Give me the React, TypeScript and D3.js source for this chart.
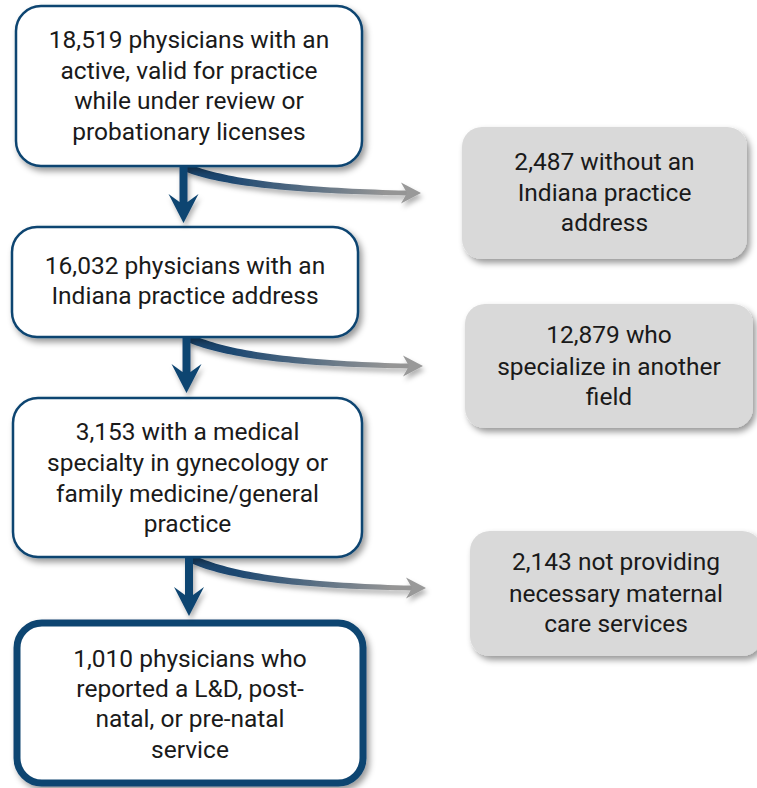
import React from "react";
import * as d3 from "d3";

// ---- Data ----
const stageCounts = ["18,519", "16,032", "3,153", "1,010"];
const stageLines = [
  ["18,519 physicians with an", "active, valid for practice", "while under review or", "probationary licenses"],
  ["16,032 physicians with an", "Indiana practice address"],
  ["3,153 with a medical", "specialty in gynecology or", "family medicine/general", "practice"],
  ["1,010 physicians who", "reported a L&D, post-", "natal, or pre-natal", "service"],
];
const excludedCounts = ["2,487", "12,879", "2,143"];
const excludedLines = [
  ["2,487 without an", "Indiana practice", "address"],
  ["12,879 who", "specialize in another", "field"],
  ["2,143 not providing", "necessary maternal", "care services"],
];

// ---- Layout ----
const W = 757;
const H = 788;
const mainBoxes = [
  { x: 16, y: 6, w: 346, h: 160, sw: 2.5 },
  { x: 12, y: 227, w: 346, h: 110, sw: 2.5 },
  { x: 13, y: 398, w: 349, h: 159, sw: 2.5 },
  { x: 17, y: 623, w: 346, h: 160, sw: 7 },
];
const mainBaselines = [
  [48, 79, 109, 140],
  [274, 304],
  [440, 471, 502, 532],
  [667, 697, 727, 758],
];
const sideBoxes = [
  { x: 462, y: 127, w: 285, h: 132 },
  { x: 465, y: 304, w: 288, h: 124 },
  { x: 470, y: 531, w: 292, h: 125 },
];
const sideBaselines = [
  [170, 201, 231],
  [343, 375, 405],
  [570, 602, 632],
];
const downArrows = [
  { cx: 183.5, y0: 166, tip: 223 },
  { cx: 186.5, y0: 337, tip: 393 },
  { cx: 189, y0: 558, tip: 616 },
];
const sideArrows = [
  { x0: 185, y0: 167, tipX: 421, tipY: 193 },
  { x0: 189, y0: 338, tipX: 423, tipY: 366 },
  { x0: 192, y0: 559, tipX: 426, tipY: 588 },
];

const NAVY = "#0f4571";
const FONT = "Roboto, 'Noto Sans', sans-serif";
const FONT_SIZE = 24.5;

function downArrowPath(a: { cx: number; y0: number; tip: number }) {
  const p = d3.path();
  const sh = 4;
  const hw = 15;
  const barbY = a.tip - 29;
  const notchY = a.tip - 21;
  p.moveTo(a.cx - sh, a.y0);
  p.lineTo(a.cx - sh, notchY);
  p.lineTo(a.cx - hw, barbY);
  p.lineTo(a.cx, a.tip);
  p.lineTo(a.cx + hw, barbY);
  p.lineTo(a.cx + sh, notchY);
  p.lineTo(a.cx + sh, a.y0);
  p.closePath();
  return p.toString();
}

function sideArrowShapes(a: { x0: number; y0: number; tipX: number; tipY: number }) {
  const headLen = 20;
  const endX = a.tipX - headLen + 6;
  const P0 = [a.x0, a.y0];
  const P1 = [a.x0 + 55, a.tipY - 3];
  const P2 = [endX, a.tipY];
  const n = 40;
  const top: [number, number][] = [];
  const bot: [number, number][] = [];
  for (let i = 0; i <= n; i++) {
    const t = i / n;
    const x = (1 - t) * (1 - t) * P0[0] + 2 * (1 - t) * t * P1[0] + t * t * P2[0];
    const y = (1 - t) * (1 - t) * P0[1] + 2 * (1 - t) * t * P1[1] + t * t * P2[1];
    const dx = 2 * (1 - t) * (P1[0] - P0[0]) + 2 * t * (P2[0] - P1[0]);
    const dy = 2 * (1 - t) * (P1[1] - P0[1]) + 2 * t * (P2[1] - P1[1]);
    const len = Math.hypot(dx, dy);
    const nx = -dy / len;
    const ny = dx / len;
    const hwid = 4.2 - 1.8 * t;
    top.push([x - nx * hwid, y - ny * hwid]);
    bot.push([x + nx * hwid, y + ny * hwid]);
  }
  const line = d3.line();
  const body = line([...top, ...bot.reverse()]) + "Z";
  const hp = d3.path();
  const bx = a.tipX - headLen;
  hp.moveTo(a.tipX, a.tipY);
  hp.lineTo(bx, a.tipY - 10.5);
  hp.lineTo(bx + 6, a.tipY);
  hp.lineTo(bx, a.tipY + 10.5);
  hp.closePath();
  return { body, head: hp.toString(), x0: a.x0, x1: a.tipX };
}

export default function App() {
  return (
    <svg
      width={W}
      height={H}
      viewBox={`0 0 ${W} ${H}`}
      style={{ position: "absolute", left: 0, top: 0, background: "#fff" }}
    >
      <defs>
        <filter id="shadow" x="-20%" y="-20%" width="140%" height="150%">
          <feDropShadow dx="3" dy="4" stdDeviation="3" floodColor="#000" floodOpacity="0.4" />
        </filter>
        <filter id="ashadow" x="-20%" y="-50%" width="140%" height="250%">
          <feDropShadow dx="2" dy="4" stdDeviation="2.5" floodColor="#000" floodOpacity="0.3" />
        </filter>
        {sideArrows.map((a, i) => (
          <linearGradient
            key={i}
            id={`grad${i}`}
            gradientUnits="userSpaceOnUse"
            x1={a.x0 + 40}
            y1={0}
            x2={a.x0 + 200}
            y2={0}
          >
            <stop offset="0" stopColor="#1a4670" />
            <stop offset="1" stopColor="#959595" />
          </linearGradient>
        ))}
      </defs>

      {sideBoxes.map((b, i) => (
        <g key={`s${i}`}>
          <rect x={b.x} y={b.y} width={b.w} height={b.h} rx={20} fill="#d9d9d9" filter="url(#shadow)" />
          {excludedLines[i].map((t, j) => (
            <text
              key={j}
              x={b.x + b.w / 2}
              y={sideBaselines[i][j]}
              textAnchor="middle"
              fontFamily={FONT}
              fontSize={FONT_SIZE}
              fill="#1a1a1a"
            >
              {t}
            </text>
          ))}
        </g>
      ))}

      {sideArrows.map((a, i) => {
        const s = sideArrowShapes(a);
        return (
          <g key={`sa${i}`} filter="url(#ashadow)">
            <path d={s.body} fill={`url(#grad${i})`} />
            <path d={s.head} fill="#999999" />
          </g>
        );
      })}

      {mainBoxes.map((b, i) => (
        <g key={`m${i}`}>
          <rect
            x={b.x}
            y={b.y}
            width={b.w}
            height={b.h}
            rx={25}
            fill="#fff"
            stroke={NAVY}
            strokeWidth={b.sw}
            filter="url(#shadow)"
          />
          {stageLines[i].map((t, j) => (
            <text
              key={j}
              x={b.x + b.w / 2}
              y={mainBaselines[i][j]}
              textAnchor="middle"
              fontFamily={FONT}
              fontSize={FONT_SIZE}
              fill="#1a1a1a"
            >
              {t}
            </text>
          ))}
        </g>
      ))}

      {downArrows.map((a, i) => (
        <path key={`da${i}`} d={downArrowPath(a)} fill={NAVY} filter="url(#ashadow)" />
      ))}
    </svg>
  );
}
